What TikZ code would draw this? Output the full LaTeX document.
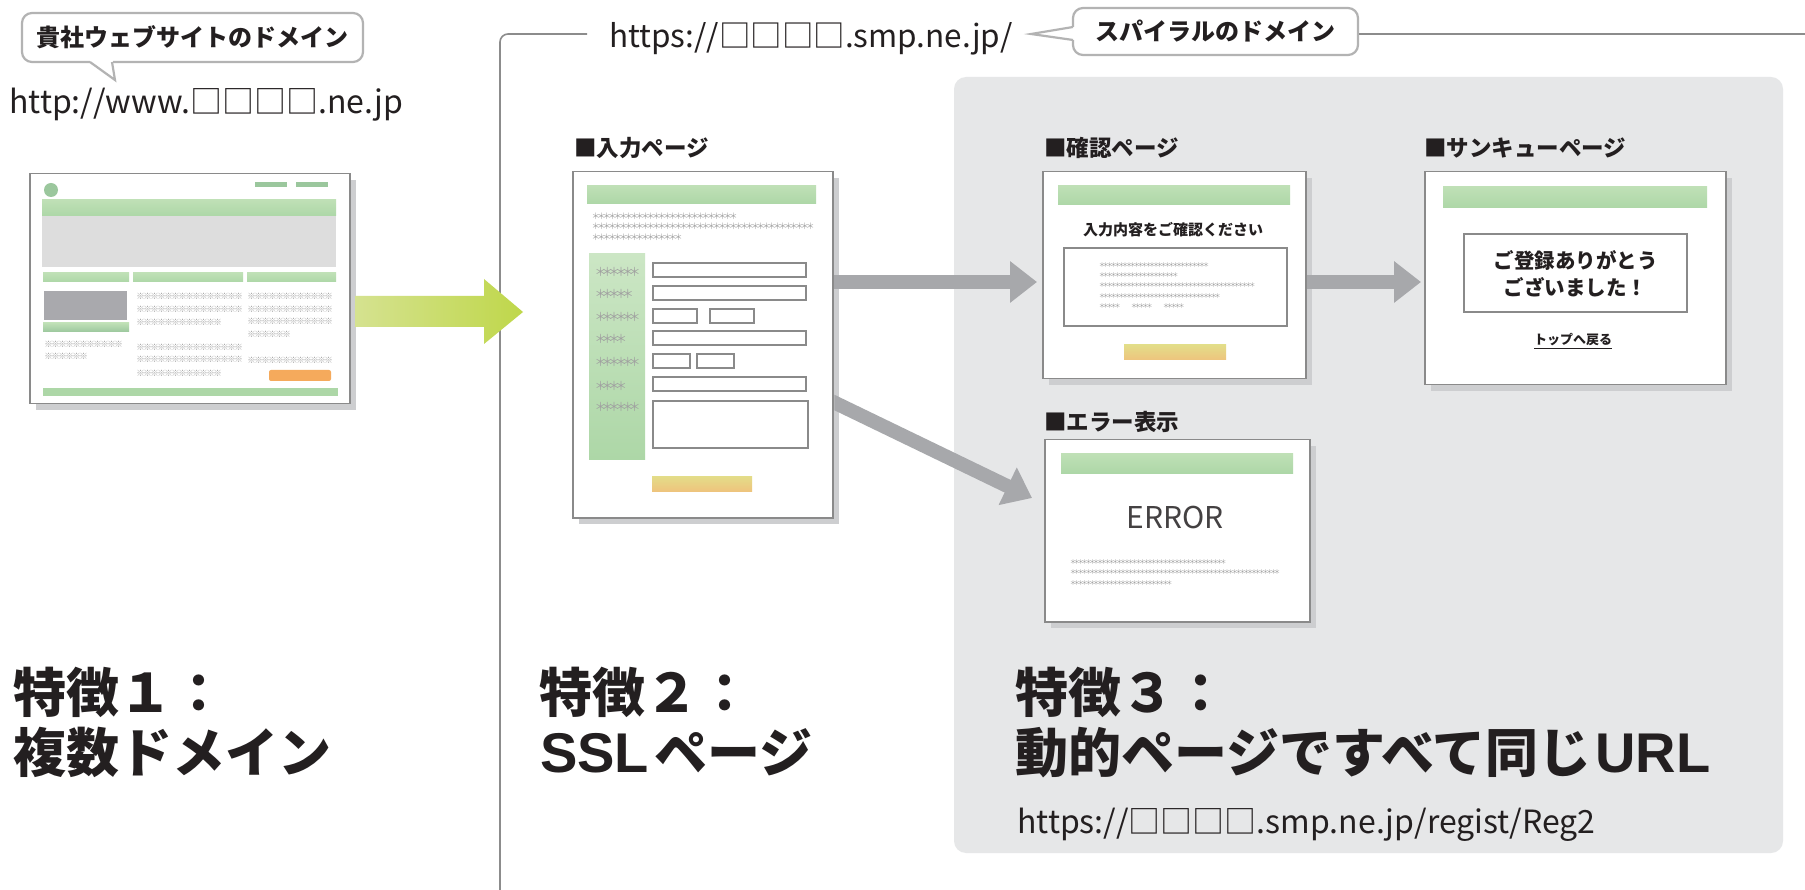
\documentclass[tikz,border=0pt]{standalone}
\usepackage{fontspec}
\setmainfont{Noto Sans CJK JP}
\newfontfamily\latinb{Liberation Sans}
\usetikzlibrary{arrows.meta,calc,shadows}

\definecolor{ink}{HTML}{231F20}
\definecolor{frm}{HTML}{8A8A8A}
\definecolor{shd}{HTML}{CDCED0}
\definecolor{pnl}{HTML}{E6E7E8}
\definecolor{hdrT}{HTML}{BFE0B6}
\definecolor{hdrB}{HTML}{ADD7A7}
\definecolor{dkG}{HTML}{9BC79D}
\definecolor{gry}{HTML}{A7A8AB}
\definecolor{starc}{HTML}{A0A0A0}
\definecolor{btnT}{HTML}{E3DD89}
\definecolor{btnB}{HTML}{EEC47D}
\definecolor{org}{HTML}{F5AA5C}
\definecolor{banner}{HTML}{DDDDDD}
\definecolor{imgG}{HTML}{A9A9AD}
\definecolor{arL}{HTML}{D5E290}
\definecolor{arR}{HTML}{BFD74A}
\definecolor{bub}{HTML}{B3B3B3}
\definecolor{ln}{HTML}{8C8C8C}

\newcommand\rep[3]{\foreach\k in {1,...,#1}{\makebox[#2][c]{#3}}}
\newcommand\fs[1]{\fontsize{#1}{#1}\selectfont}
\newcommand\lat[1]{{\latinb\fontsize{56}{56}\selectfont #1}}

\tikzset{
  page/.style={draw=frm, line width=1.5pt, fill=white, inner sep=0pt, anchor=north west,
    general shadow={fill=shd, shadow xshift=6pt, shadow yshift=-6pt}},
  title/.style={anchor=base west, inner sep=0pt, font=\fs{22.5}\bfseries, text=ink},
  hdr/.style={top color=hdrT, bottom color=hdrB},
  field/.style={draw=frm, line width=1.2pt, fill=white},
  btn/.style={top color=btnT, bottom color=btnB},
  stars/.style={anchor=west, inner sep=0pt, text=starc},
  mk/.style={stars, font=\fs{8.5}},
  sA/.style={stars, font=\fs{8.5}},
  sB/.style={stars, font=\fs{12}},
  sC/.style={stars, font=\fs{6.5}},
  garrow/.style={draw=gry, line width=14pt, -{Triangle[length=27pt, width=40pt]}},
  frameline/.style={draw=ln, line width=1.6pt},
  bubble/.style={draw=bub, line width=2.2pt, fill=white, rounded corners=10pt,
    inner sep=0pt, font=\fs{24}\bfseries, text=ink},
  head/.style={anchor=base west, inner sep=0pt, font=\fs{53}\bfseries, text=ink},
  url/.style={anchor=base west, inner sep=0pt, font=\fs{32}, text=ink},
}

\begin{document}
\begin{tikzpicture}[x=1pt, y=-1pt]
\path[use as bounding box] (0,0) rectangle (1805,890);
\fill[white] (0,0) rectangle (1805,890);

% grey panel behind the dynamic pages
\fill[pnl, rounded corners=12pt] (954,77) rectangle (1783,853);

% SSL area frame line
\draw[frameline, rounded corners=8pt] (500,890) -- (500,34) -- (587,34);

% speech bubbles
\node[bubble, minimum width=341pt, minimum height=49pt] (b1) at (192.5,37.5) {貴社ウェブサイトのドメイン};
\fill[white] (89.5,60) rectangle (112.5,63.8);
\filldraw[fill=white, draw=bub, line width=2.2pt] (90,62) -- (115,80) -- (112,62);

\node[bubble, minimum width=285pt, minimum height=47pt] (b2) at (1215.5,31.5) {スパイラルのドメイン};
\fill[white] (1071.4,27) rectangle (1075,40);
\filldraw[fill=white, draw=bub, line width=2.2pt] (1073,27) -- (1031,34) -- (1073,40);
\draw[frameline] ($(b2.east)+(0,2.5)$) -- (1805,34);

% ---------- company web site ----------
\node[page, minimum width=320pt, minimum height=230pt] (site) at (29,173) {};
\fill[dkG] (51,190) circle[radius=7];
\fill[dkG] (255,182) rectangle (287,187);
\fill[dkG] (296,182) rectangle (328,187);
\shade[hdr] (42,200) rectangle (336,216);
\fill[banner] (42,216) rectangle (336,267);
\shade[hdr] (43,273) rectangle (129,282);
\shade[hdr] (133,273) rectangle (243,282);
\shade[hdr] (247,273) rectangle (336,282);
\fill[imgG] (44,291) rectangle (127,320);
\shade[top color=hdrT, bottom color=dkG] (43,323) rectangle (129,332);
\fill[org, rounded corners=2pt] (269,370) rectangle (331,381);
\fill[hdrB] (43,388) rectangle (338,396);
\node[mk] (m1) at (45,344) {\rep{11}{7pt}{※}};
\node[mk] (m2) at (45,356) {\rep{6}{7pt}{※}};
\node[mk] (m3) at (137,296) {\rep{15}{7pt}{※}};
\node[mk] (m4) at (137,309) {\rep{15}{7pt}{※}};
\node[mk] (m5) at (137,322) {\rep{12}{7pt}{※}};
\node[mk] (m6) at (137,347) {\rep{15}{7pt}{※}};
\node[mk] (m7) at (137,359) {\rep{15}{7pt}{※}};
\node[mk] (m8) at (137,373) {\rep{12}{7pt}{※}};
\node[mk] (m9) at (248,296) {\rep{12}{7pt}{※}};
\node[mk] (m10) at (248,309) {\rep{12}{7pt}{※}};
\node[mk] (m11) at (248,321) {\rep{12}{7pt}{※}};
\node[mk] (m12) at (248,334) {\rep{6}{7pt}{※}};
\node[mk] (m13) at (248,360) {\rep{12}{7pt}{※}};

% ---------- input page ----------
\node[title] (t1) at (574,157) {■入力ページ};
\node[page, minimum width=260pt, minimum height=346pt] (inp) at (572,171) {};
\shade[hdr] (587,186) rectangle (816,204);
\node[sA] (i1) at (593,216) {\rep{26}{5.5pt}{＊}};
\node[sA] (i2) at (593,226) {\rep{40}{5.5pt}{＊}};
\node[sA] (i3) at (593,237) {\rep{16}{5.5pt}{＊}};
\shade[top color=hdrT!80!white, bottom color=hdrB] (589,254) rectangle (645,459);
\node[sB] (l1) at (597,272) {\rep{6}{6.8pt}{＊}};
\node[sB] (l2) at (597,294) {\rep{5}{6.8pt}{＊}};
\node[sB] (l3) at (597,317) {\rep{6}{6.8pt}{＊}};
\node[sB] (l4) at (597,339) {\rep{4}{6.8pt}{＊}};
\node[sB] (l5) at (597,362) {\rep{6}{6.8pt}{＊}};
\node[sB] (l6) at (597,386) {\rep{4}{6.8pt}{＊}};
\node[sB] (l7) at (597,407) {\rep{6}{6.8pt}{＊}};
\draw[field] (653,263) rectangle (806,277);
\draw[field] (653,286) rectangle (806,300);
\draw[field] (653,309) rectangle (697,323);
\draw[field] (710,309) rectangle (754,323);
\draw[field] (653,331) rectangle (806,345);
\draw[field] (653,354) rectangle (690,368);
\draw[field] (697,354) rectangle (734,368);
\draw[field] (653,377) rectangle (806,391);
\draw[field] (653,401) rectangle (808,448);
\shade[btn] (652,476) rectangle (752,491);

% ---------- confirmation page ----------
\node[title] (t2) at (1044,157) {■確認ページ};
\node[page, minimum width=263pt, minimum height=207pt] (conf) at (1042,171) {};
\shade[hdr] (1058,186) rectangle (1290,205);
\node[anchor=base, inner sep=0pt, font=\fs{15}\bfseries, text=ink] (cmsg) at (1173,236) {入力内容をご確認ください};
\draw[field] (1064,248) rectangle (1287,326);
\node[sC] (c1) at (1100,265) {\rep{28}{3.85pt}{＊}};
\node[sC] (c2) at (1100,275) {\rep{20}{3.85pt}{＊}};
\node[sC] (c3) at (1100,285) {\rep{40}{3.85pt}{＊}};
\node[sC] (c4) at (1100,296) {\rep{31}{3.85pt}{＊}};
\node[sC] (c5) at (1100,306) {\rep{5}{3.85pt}{＊}};
\node[sC] (c6) at (1132,306) {\rep{5}{3.85pt}{＊}};
\node[sC] (c7) at (1164,306) {\rep{5}{3.85pt}{＊}};
\shade[btn] (1124,345) rectangle (1226,360);

% ---------- thank-you page ----------
\node[title] (t3) at (1424,157) {■サンキューページ};
\node[page, minimum width=301pt, minimum height=213pt] (thx) at (1424,171) {};
\shade[hdr] (1443,187) rectangle (1707,208);
\draw[field] (1464,234) rectangle (1687,312);
\node[align=center, inner sep=0pt, font=\fontsize{20.5}{27.5}\selectfont\bfseries, text=ink] (tmsg) at (1575.5,274) {ご登録ありがとう\\ございました！};
\node[anchor=base, inner sep=0pt, font=\fs{13}\bfseries, text=ink] (tlink) at (1573,345) {\underline{トップへ戻る}};

% ---------- error page ----------
\node[title] (t4) at (1044,431) {■エラー表示};
\node[page, minimum width=265pt, minimum height=182pt] (err) at (1044,439) {};
\shade[hdr] (1061,454) rectangle (1293,473);
\node[anchor=base, inner sep=0pt, font=\fs{30}, text=ink!85] (etext) at (1175,528) {ERROR};
\node[sC] (e1) at (1071,562) {\rep{40}{3.85pt}{＊}};
\node[sC] (e2) at (1071,572) {\rep{54}{3.85pt}{＊}};
\node[sC] (e3) at (1071,583) {\rep{26}{3.85pt}{＊}};

% ---------- flow arrows ----------
\draw[garrow] ($(inp.north east)+(0.75,111)$) -- ($(conf.north west)+(-5,111)$);
\draw[garrow] ($(conf.north east)+(0.75,111)$) -- ($(thx.north west)+(-3,111)$);
\begin{scope}
  \clip ($(inp.north east)+(0.75,0)$) rectangle (err.south west);
  \draw[garrow] ($(inp.north east)+(-20,221.4)$) -- ($(err.north west)+(-12,59)$);
\end{scope}

% green arrow from the company site into the SSL area
\shade[left color=arL, right color=arR] (355,296) -- (484,296) -- (484,279) -- (523,312) -- (484,344) -- (484,327) -- (355,327) -- cycle;

% ---------- URLs ----------
\node[url] (u1) at (9,114) {http://www.□□□□.ne.jp};
\node[url, font=\fs{31.5}] (u2) at (609,47.5) {https://□□□□.smp.ne.jp/};
\node[url] (u3) at (1017,833) {https://□□□□.smp.ne.jp/regist/Reg2};

% ---------- feature headlines ----------
\node[head] (f1a) at (13,712) {特徴１：};
\node[head] (f1b) at (13,772) {複数ドメイン};
\node[head] (f2a) at (539,712) {特徴２：};
\node[head] (f2b) at (540,772) {\lat{SSL}\hspace{5pt}ページ};
\node[head] (f3a) at (1015,712) {特徴３：};
\node[head] (f3b) at (1015,772) {動的ページですべて同じ\hspace{4pt}\lat{URL}};
\end{tikzpicture}
\end{document}
